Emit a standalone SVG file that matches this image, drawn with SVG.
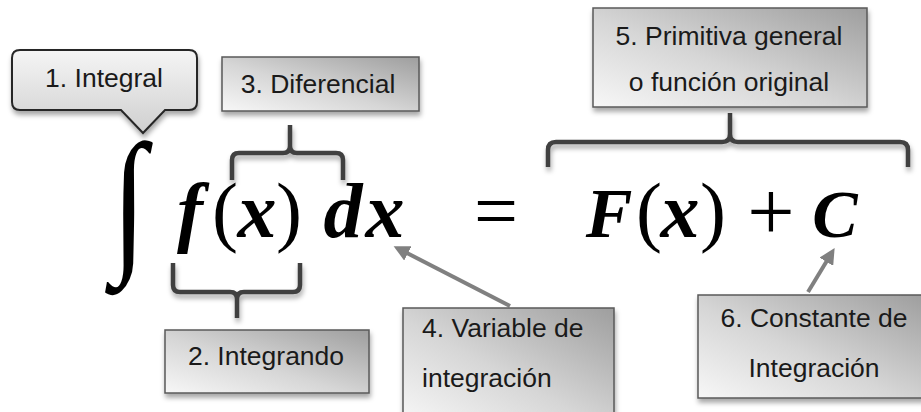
<svg xmlns="http://www.w3.org/2000/svg" width="921" height="412" viewBox="0 0 921 412">
<defs>
  <linearGradient id="boxGrad" x1="1" y1="0" x2="0" y2="1">
    <stop offset="0" stop-color="#9e9e9e"/>
    <stop offset="0.55" stop-color="#d6d6d6"/>
    <stop offset="1" stop-color="#f7f7f7"/>
  </linearGradient>
  <linearGradient id="calloutGrad" x1="0" y1="0" x2="0" y2="1">
    <stop offset="0" stop-color="#f5f5f5"/>
    <stop offset="1" stop-color="#cfcfcf"/>
  </linearGradient>
  <filter id="shadow" x="-10%" y="-10%" width="130%" height="140%">
    <feDropShadow dx="1" dy="4" stdDeviation="2.5" flood-color="#000" flood-opacity="0.35"/>
  </filter>
  <marker id="arrow" viewBox="0 0 10 10" refX="2" refY="5" markerWidth="4" markerHeight="4" orient="auto-start-reverse" markerUnits="strokeWidth">
    <path d="M0,0 L10,5 L0,10 Z" fill="#808080"/>
  </marker>
  <style>
    .box { fill: url(#boxGrad); stroke: #5a5a5a; stroke-width: 1.5; filter: url(#shadow); }
    .lbl { font-family: "Liberation Sans", Arial, sans-serif; font-size: 26.5px; fill: #1a1a1a; }
    .mid { text-anchor: middle; }
    .brace { fill: none; stroke: #404040; stroke-width: 4.5; stroke-linejoin: round; stroke-linecap: butt; filter: url(#shadow); }
    .math { font-family: "Liberation Serif", "DejaVu Serif", serif; font-size: 78px; fill: #000; text-anchor: middle; }
    .bi { font-weight: bold; font-style: italic; }
    .arr { fill: none; stroke: #808080; stroke-width: 4; marker-end: url(#arrow); }
  </style>
</defs>
<rect width="921" height="412" fill="#ffffff"/>

<g id="formula">
  <text class="math" x="0" y="0" style="font-size:158px" transform="translate(129 253) scale(0.8 1)">∫</text>
  <text class="math bi" x="190" y="237">f</text>
  <text class="math" x="225" y="237">(</text>
  <text class="math bi" x="257" y="237">x</text>
  <text class="math" x="289" y="237">)</text>
  <text class="math bi" x="343" y="237">d</text>
  <text class="math bi" x="385" y="237">x</text>
  <text class="math" x="496" y="237">=</text>
  <text class="math bi" x="609" y="237" style="font-size:70px">F</text>
  <text class="math" x="649" y="237">(</text>
  <text class="math bi" x="680" y="237">x</text>
  <text class="math" x="713" y="237">)</text>
  <text class="math" x="771" y="240" style="font-size:84px">+</text>
  <text class="math bi" x="835" y="237" style="font-size:68px">C</text>
</g>

<g id="connectors">
  <path class="brace" d="M232,180 V160 Q232,153 239,153 H283 Q290,153 290,146 V125 M290,146 Q290,153 297,153 H336 Q343,153 343,160 V180"/>
  <path class="brace" d="M173,263 V285 Q173,292 180,292 H230 Q237,292 237,299 V318 M237,299 Q237,292 244,292 H293 Q300,292 300,285 V263"/>
  <path class="brace" d="M548,167 V150 Q548,142 556,142 H722 Q730,142 730,134 V113 M730,134 Q730,142 738,142 H900 Q908,142 908,150 V167"/>
  <line class="arr" x1="510" y1="306" x2="405" y2="252"/>
  <line class="arr" x1="808" y1="292" x2="828" y2="259"/>
</g>

<g id="node1">
  <path d="M20,50 H189 Q197,50 197,58 V102 Q197,110 189,110 H165 L143,133 L121,110 H20 Q12,110 12,102 V58 Q12,50 20,50 Z" fill="url(#calloutGrad)" stroke="#262626" stroke-width="2" filter="url(#shadow)"/>
  <text class="lbl mid" x="104" y="87">1. Integral</text>
</g>

<g id="node2">
  <rect class="box" x="165" y="330" width="204" height="63"/>
  <text class="lbl mid" x="266" y="365">2. Integrando</text>
</g>

<g id="node3">
  <rect class="box" x="222" y="57" width="197" height="54"/>
  <text class="lbl mid" x="318" y="93">3. Diferencial</text>
</g>

<g id="node4">
  <rect class="box" x="403" y="308" width="211" height="114"/>
  <text class="lbl" x="422" y="337">4. Variable de</text>
  <text class="lbl" x="422" y="387">integración</text>
</g>

<g id="node5">
  <rect class="box" x="593" y="8" width="274" height="99"/>
  <text class="lbl mid" x="729" y="45">5. Primitiva general</text>
  <text class="lbl mid" x="729" y="91">o función original</text>
</g>

<g id="node6">
  <rect class="box" x="698" y="295" width="226" height="103"/>
  <text class="lbl mid" x="814" y="327">6. Constante de</text>
  <text class="lbl mid" x="814" y="377">Integración</text>
</g>
</svg>
